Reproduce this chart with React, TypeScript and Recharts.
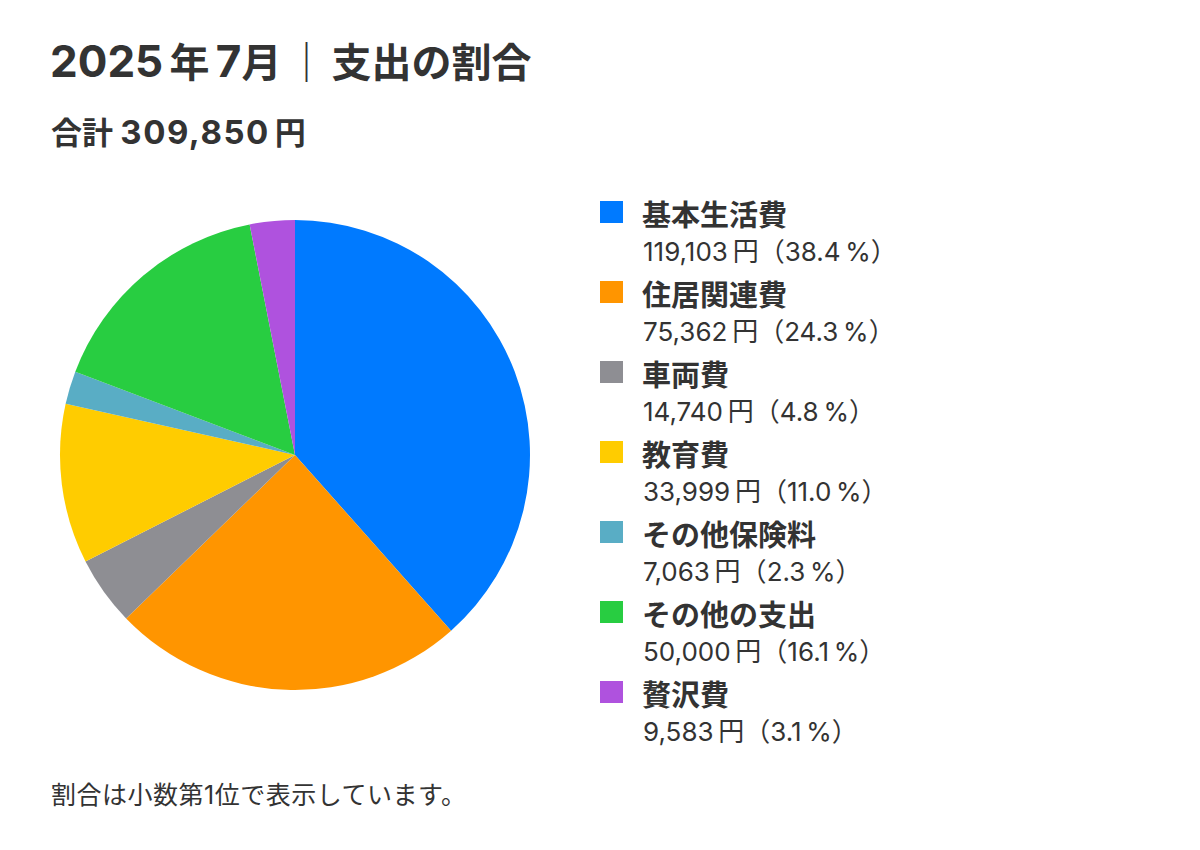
import React from "react";
import { PieChart, Pie, Cell } from "recharts";

const categories = [
  "基本生活費",
  "住居関連費",
  "車両費",
  "教育費",
  "その他保険料",
  "その他の支出",
  "贅沢費",
];
const amounts = [119103, 75362, 14740, 33999, 7063, 50000, 9583];
const percents = ["38.4", "24.3", "4.8", "11.0", "2.3", "16.1", "3.1"];
const colors = [
  "#007AFF",
  "#FF9500",
  "#8E8E93",
  "#FFCC00",
  "#59ADC5",
  "#28CD41",
  "#AF52DE",
];
const totalLabel = "309,850";

const data = categories.map((name, i) => ({
  name,
  value: amounts[i],
  percent: percents[i],
  color: colors[i],
}));

const font = 'Inter, "Noto Sans CJK JP", "Noto Sans", sans-serif';
const textColor = "#333333";

function LegendList() {
  return (
    <div style={{ fontFamily: font, color: textColor }}>
      {data.map((d) => (
        <div key={d.name} style={{ height: 80, position: "relative" }}>
          <div
            style={{
              position: "absolute",
              left: 0,
              top: 4,
              width: 23,
              height: 22,
              background: d.color,
            }}
          />
          <div
            style={{
              position: "absolute",
              left: 42,
              top: 1,
              fontSize: 29,
              fontWeight: 700,
              lineHeight: "36px",
              whiteSpace: "nowrap",
            }}
          >
            {d.name}
          </div>
          <div
            style={{
              position: "absolute",
              left: 43,
              top: 38,
              fontSize: 26,
              lineHeight: "34px",
              whiteSpace: "nowrap",
            }}
          >
            {d.value.toLocaleString("en-US")}
            {"\u2009円（"}
            {d.percent}
            {"\u2009%）"}
          </div>
        </div>
      ))}
    </div>
  );
}

export default function App() {
  return (
    <div
      style={{
        position: "absolute",
        left: 0,
        top: 0,
        width: 1200,
        height: 850,
        background: "#ffffff",
        fontFamily: font,
        color: textColor,
      }}
    >
      <div
        style={{
          position: "absolute",
          left: 50,
          top: 35,
          fontSize: 40,
          fontWeight: 700,
          lineHeight: "52px",
          whiteSpace: "nowrap",
        }}
      >
        <span style={{ fontSize: 44 }}>2025</span>
        {"\u2009"}年{"\u2009"}
        <span style={{ fontSize: 44 }}>7</span>月
        <span style={{ margin: "0 5px" }}>｜</span>支出の割合
      </div>
      <div
        style={{
          position: "absolute",
          left: 51,
          top: 112,
          fontSize: 31,
          fontWeight: 700,
          lineHeight: "40px",
          whiteSpace: "nowrap",
        }}
      >
        合計{" "}
        <span style={{ fontSize: 33, letterSpacing: 1.5 }}>{totalLabel}</span>
        {"\u2009"}円
      </div>

      <div style={{ position: "absolute", left: 0, top: 0 }}>
        <PieChart
          width={600}
          height={850}
          margin={{ top: 0, right: 0, bottom: 0, left: 0 }}
        >
          <Pie
            data={data}
            dataKey="value"
            nameKey="name"
            cx={295}
            cy={455}
            outerRadius={235}
            startAngle={90}
            endAngle={-270}
            stroke="none"
            isAnimationActive={false}
          >
            {data.map((d) => (
              <Cell key={d.name} fill={d.color} />
            ))}
          </Pie>
        </PieChart>
      </div>

      <div style={{ position: "absolute", left: 600, top: 197, width: 400 }}>
        <LegendList />
      </div>

      <div
        style={{
          position: "absolute",
          left: 51,
          top: 779,
          fontSize: 25,
          letterSpacing: 0.5,
          lineHeight: "32px",
          whiteSpace: "nowrap",
        }}
      >
        割合は小数第1位で表示しています。
      </div>
    </div>
  );
}
